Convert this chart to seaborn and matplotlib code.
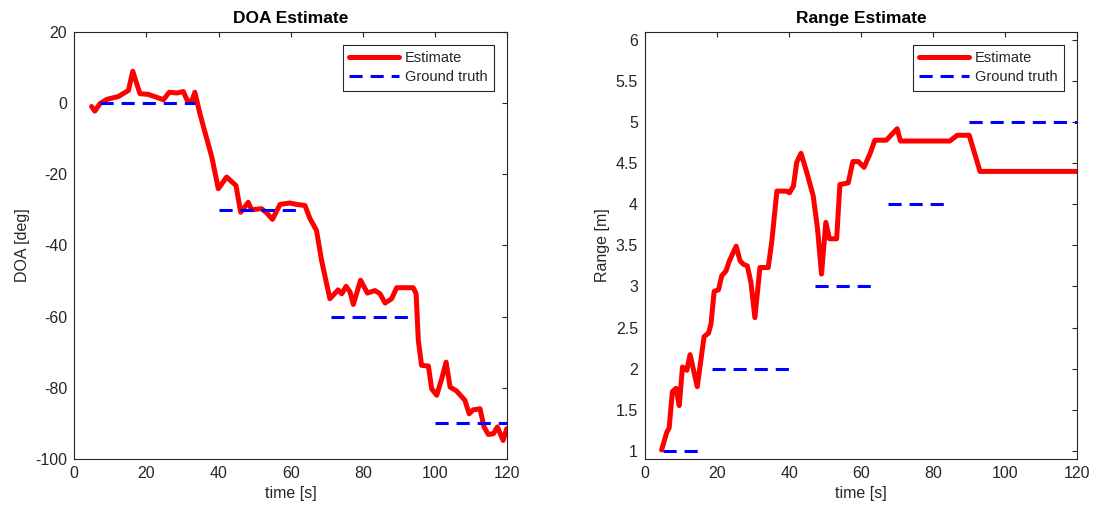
import numpy as np
import pandas as pd
import matplotlib
matplotlib.use('Agg')
import matplotlib.pyplot as plt
import seaborn as sns

# DOA estimate
doa_t = [4.8, 5.7, 7.1, 9.0, 12.2, 15.0, 16.2, 18.2, 20.5, 22.8, 24.7, 26.3, 28.4, 30.2, 31.3, 32.5,
         33.4, 34.8, 36.2, 38.1, 39.9, 42.2, 44.8, 46.1, 48.2, 49.1, 51.9, 53.3, 54.9, 57.0, 59.7,
         61.6, 63.9, 65.3, 67.1, 68.5, 70.8, 73.1, 74.1, 75.3, 76.4, 77.3, 79.3, 81.2, 83.3, 84.7,
         86.1, 87.9, 89.3, 93.9, 94.7, 95.3, 96.2, 98.1, 99.0, 100.4, 101.8, 103.0, 104.1, 105.9,
         108.2, 109.4, 110.5, 112.4, 113.5, 114.7, 116.1, 117.2, 118.8, 119.8]
doa_est = [-1.0, -2.3, -0.2, 1.0, 1.8, 3.5, 8.9, 2.6, 2.4, 1.6, 0.9, 3.0, 2.8, 3.2, 0.7, 0.4,
           3.0, -3.0, -8.2, -15.2, -24.1, -20.8, -23.2, -30.7, -27.9, -30.0, -29.7, -30.9, -32.7,
           -28.5, -28.1, -28.5, -28.8, -32.5, -35.8, -44.2, -55.0, -52.5, -53.6, -51.5, -53.1,
           -56.6, -49.8, -53.4, -52.7, -53.6, -56.2, -55.0, -51.9, -51.9, -53.6, -66.7, -73.7,
           -73.9, -80.3, -82.1, -77.4, -72.8, -79.8, -80.9, -83.5, -87.3, -86.2, -85.9, -91.0,
           -93.1, -92.9, -91.0, -94.8, -91.5]
doa_gt_start = [7, 40, 71, 100]
doa_gt_end = [33.5, 63, 94.5, 120]
doa_gt_val = [0, -30, -60, -90]

# Range estimate
rng_t = [4.6, 6.0, 6.7, 7.6, 8.6, 9.5, 10.4, 11.6, 12.5, 14.5, 16.4, 17.6, 18.3, 19.2, 20.4,
         21.3, 22.5, 23.4, 25.3, 26.4, 27.3, 28.4, 29.4, 30.5, 31.9, 34.2, 35.2, 36.6, 39.3,
         40.1, 41.2, 42.1, 43.3, 44.9, 46.7, 47.9, 49.0, 50.2, 51.2, 53.2, 54.1, 56.4, 57.7,
         59.2, 60.8, 62.5, 63.8, 67.0, 70.0, 70.9, 84.6, 86.7, 90.0, 93.0, 120.0]
rng_est = [1.01, 1.22, 1.28, 1.72, 1.76, 1.55, 2.02, 1.98, 2.17, 1.78, 2.39, 2.43, 2.54, 2.94,
           2.96, 3.13, 3.19, 3.31, 3.49, 3.31, 3.27, 3.25, 3.05, 2.62, 3.23, 3.23, 3.55, 4.16,
           4.16, 4.14, 4.22, 4.51, 4.62, 4.39, 4.10, 3.70, 3.15, 3.78, 3.58, 3.58, 4.24, 4.26,
           4.52, 4.52, 4.45, 4.62, 4.78, 4.78, 4.92, 4.77, 4.77, 4.84, 4.84, 4.40, 4.40]
rng_gt_start = [5, 18.5, 47.2, 67.5, 90]
rng_gt_end = [15, 40, 64, 84.2, 120]
rng_gt_val = [1, 2, 3, 4, 5]

sns.set_theme(style='white')
plt.rcParams['font.family'] = ['Liberation Sans', 'DejaVu Sans']
plt.rcParams['axes.unicode_minus'] = False
plt.rcParams['axes.edgecolor'] = '#262626'
plt.rcParams['axes.linewidth'] = 0.8

fig = plt.figure(figsize=(10.97, 5.16), dpi=100)
ax1 = fig.add_axes([0.0677, 0.1105, 0.3949, 0.828])
ax2 = fig.add_axes([0.588, 0.1105, 0.394, 0.828])


def draw_panel(ax, t, est, gs, ge, gv):
    sns.lineplot(x=t, y=est, ax=ax, color='#ff0000', linewidth=3.6, label='Estimate',
                 sort=False, solid_joinstyle='round', legend=False)
    for i in range(len(gv)):
        lab = 'Ground truth' if i == 0 else '_nolegend_'
        sns.lineplot(x=[gs[i], ge[i]], y=[gv[i], gv[i]], ax=ax, color='#0000ff', linewidth=2.2,
                     linestyle=(0, (4.3, 2.6)), label=lab, legend=False)
    ax.set_xlim(0, 120)
    ax.set_xticks(np.arange(0, 121, 20))
    ax.set_xlabel('time [s]', fontsize=11.5, color='#262626')
    ax.tick_params(direction='in', length=3.5, width=0.8, colors='#262626', labelsize=11.5,
                   top=True, right=True, pad=5)
    for s in ax.spines.values():
        s.set_visible(True)
        s.set_color('#262626')
    h, l = ax.get_legend_handles_labels()
    leg = ax.legend(h, l, loc='upper right', bbox_to_anchor=(0.969, 0.97), borderaxespad=0,
                    fontsize=10.5, handlelength=3.4, handletextpad=0.4, labelspacing=0.35,
                    borderpad=0.45, fancybox=False, framealpha=1, edgecolor='#262626')
    leg.get_frame().set_linewidth(0.8)


draw_panel(ax1, doa_t, doa_est, doa_gt_start, doa_gt_end, doa_gt_val)
ax1.set_ylim(-100, 20)
ax1.set_yticks(np.arange(-100, 21, 20))
ax1.set_ylabel('DOA [deg]', fontsize=11.5, color='#262626')
ax1.set_title('DOA Estimate', fontsize=12.5, fontweight='bold', pad=6, color='black')

draw_panel(ax2, rng_t, rng_est, rng_gt_start, rng_gt_end, rng_gt_val)
ax2.set_ylim(0.9, 6.1)
ax2.set_yticks(np.arange(1, 6.01, 0.5))
ax2.set_yticklabels(['1', '1.5', '2', '2.5', '3', '3.5', '4', '4.5', '5', '5.5', '6'])
ax2.set_ylabel('Range [m]', fontsize=11.5, color='#262626')
ax2.set_title('Range Estimate', fontsize=12.5, fontweight='bold', pad=6, color='black')

fig.savefig('out.png', dpi=100)
